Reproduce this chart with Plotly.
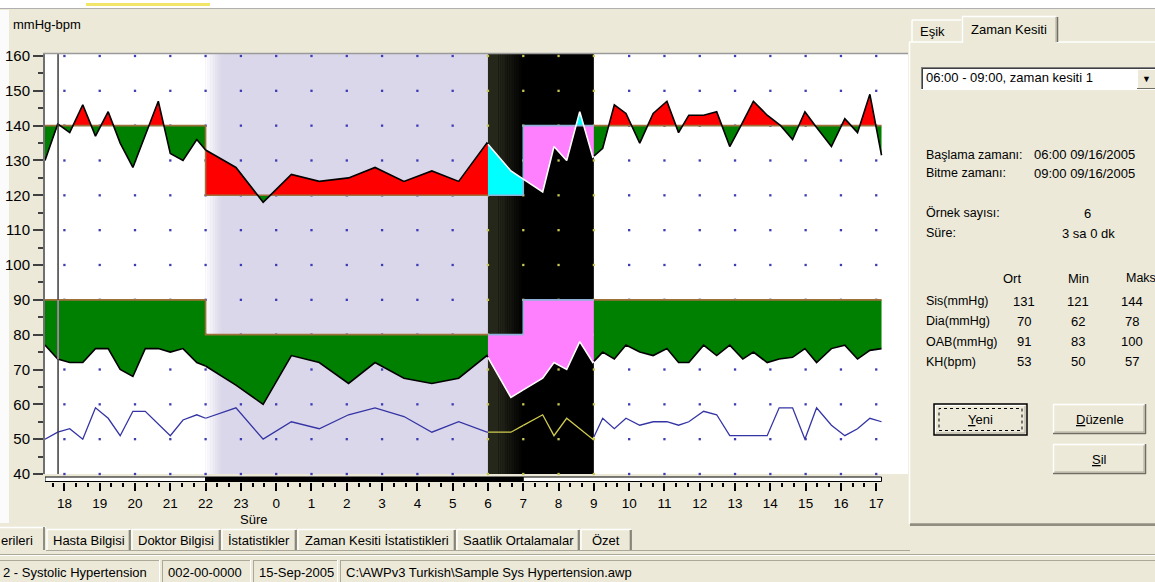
import plotly.graph_objects as go
import numpy as np

W, H = 1155, 582
FONT = "Liberation Sans, Arial, sans-serif"

# ---------------- data (hours; values above 24 belong to the next day) ----------------
times = [17.45, 17.81, 18.15, 18.52, 18.88, 19.24, 19.58, 19.94, 20.29, 20.66, 21.00, 21.36, 21.75, 22.00,
         22.86, 23.63, 24.43, 25.22, 26.05, 26.80, 27.62, 28.41, 29.17, 29.97,
         30.65, 31.55, 31.87, 32.23, 32.60, 32.97,
         33.25, 33.58, 33.91, 34.30, 34.68, 35.07, 35.40, 35.69, 36.11, 36.48, 36.85, 37.22, 37.52, 37.91,
         38.25, 38.63, 38.98, 39.31, 39.73, 40.11, 40.47, 40.82, 41.15]
sys_vals = [130, 140.5, 138, 146, 137, 144, 135, 128, 137, 147, 132, 130, 136, 133,
            128, 118, 126, 124, 125, 128, 124, 127, 124, 135,
            127, 121, 134, 130, 144, 131,
            133.5, 146, 143.5, 135, 143.5, 147, 138, 143, 143, 144, 134, 141, 147, 143,
            140.5, 136, 144, 139.5, 134, 142, 138, 149, 131.5]
dia_vals = [77, 73, 72, 72, 76, 76, 70, 68, 76, 76, 75, 76, 72, 71,
            65.5, 60, 74, 72, 66, 72, 67.5, 66, 67.5, 74,
            62, 67.5, 72, 70, 78, 72,
            75, 73, 77, 75, 74, 76, 72, 72, 77, 74, 77, 73, 75, 72,
            73, 73.5, 76, 72, 76, 77, 73, 75.5, 76]
hr_vals = [50, 52, 53, 50, 59, 56, 51, 58, 58, 54.5, 51, 55.5, 57, 56,
           59, 50, 55, 53, 57, 59, 56.5, 52, 55, 52,
           52, 57, 51, 56, 53, 50,
           56, 53, 56, 54, 55, 55, 54, 55, 58, 57, 51, 51, 51, 51,
           59, 59, 50, 59, 54, 51, 53, 56, 55]

sys_limits = (140, 120)      # day, night
dia_limits = (90, 80)
night_start, night_end = 22.0, 31.0     # 22:00 - 07:00
slice_start, slice_end = 30.0, 33.0     # 06:00 - 09:00 time slice
cursor_t = 17.82

hour_ticks = list(range(18, 42))
hour_labels = ["18", "19", "20", "21", "22", "23", "0", "1", "2", "3", "4", "5", "6", "7", "8",
               "9", "10", "11", "12", "13", "14", "15", "16", "17"]
y_ticks = list(range(40, 161, 10))

x_min, x_max = 17.45, 41.90
y_min, y_max = 40, 160.57

# ---------------- helpers ----------------
def limit_at(t, lim):
    return lim[1] if night_start <= t < night_end else lim[0]

cuts = sorted(set([times[0], times[-1], night_start, night_end, slice_start, slice_end]))
cuts = [c for c in cuts if times[0] <= c <= times[-1]]
intervals = list(zip(cuts[:-1], cuts[1:]))


def in_slice(a, b):
    m = (a + b) / 2
    return slice_start <= m < slice_end


def build(vals, lim):
    out = {"above": {False: ([], []), True: ([], [])},
           "below": {False: ([], []), True: ([], [])},
           "thr": {False: ([], []), True: ([], [])},
           "curve": {False: ([], []), True: ([], [])}}
    prev_thr = None
    for a, b in intervals:
        m = (a + b) / 2
        thr = limit_at(m, lim)
        s = in_slice(a, b)
        xs = [a] + [t for t in times if a < t < b] + [b]
        ys = list(np.interp(xs, times, vals))
        X, Y = [xs[0]], [ys[0]]
        for i in range(1, len(xs)):
            y0, y1 = ys[i - 1], ys[i]
            if (y0 - thr) * (y1 - thr) < 0:
                tc = xs[i - 1] + (thr - y0) / (y1 - y0) * (xs[i] - xs[i - 1])
                X.append(tc)
                Y.append(thr)
            X.append(xs[i])
            Y.append(ys[i])
        up = [max(y, thr) for y in Y]
        dn = [min(y, thr) for y in Y]
        bx = X[::-1]
        ax_, ay_ = out["above"][s]
        ax_ += X + bx + [None]
        ay_ += up + [thr] * len(X) + [None]
        bx_, by_ = out["below"][s]
        bx_ += X + bx + [None]
        by_ += dn + [thr] * len(X) + [None]
        tx, ty = out["thr"][s]
        if prev_thr is not None and prev_thr != thr:
            tx += [a]
            ty += [prev_thr]
        tx += [a, b, None]
        ty += [thr, thr, None]
        cx, cy = out["curve"][s]
        cx += X + [None]
        cy += Y + [None]
        prev_thr = thr
    return out


def hr_paths(vals):
    res = {False: ([], []), True: ([], [])}
    for a, b in intervals:
        s = in_slice(a, b)
        xs = [a] + [t for t in times if a < t < b] + [b]
        ys = list(np.interp(xs, times, vals))
        res[s][0].extend(xs + [None])
        res[s][1].extend(ys + [None])
    return res


def blend(c1, c2, f):
    return "rgb(%d,%d,%d)" % tuple(round(c1[i] + (c2[i] - c1[i]) * f) for i in range(3))


fig = go.Figure()

# grid dots
dot_x, dot_y, dot_c = [], [], []
for h in hour_ticks:
    for v in y_ticks:
        dot_x.append(h)
        dot_y.append(v)
        dot_c.append("#C8C850" if slice_start <= h <= slice_end else "#3C3CB4")
fig.add_trace(go.Scatter(x=dot_x, y=dot_y, mode="markers", cliponaxis=False,
                         marker=dict(symbol="square", size=2.3, color=dot_c, line=dict(width=0)),
                         hoverinfo="skip", showlegend=False))

THR_COL = {False: "#A0703A", True: "#8FB0D8"}
CURVE_COL = {False: "#000000", True: "#FFFFFF"}
ABOVE_COL = {False: "#FF0000", True: "#00FFFF"}
BELOW_COL = {False: "#008000", True: "#FF80FF"}

for vals, lim in [(sys_vals, sys_limits), (dia_vals, dia_limits)]:
    out = build(vals, lim)
    for s in (False, True):
        x, y = out["above"][s]
        fig.add_trace(go.Scatter(x=x, y=y, mode="lines", fill="toself", fillcolor=ABOVE_COL[s],
                                 line=dict(width=0), hoverinfo="skip", showlegend=False))
        x, y = out["below"][s]
        fig.add_trace(go.Scatter(x=x, y=y, mode="lines", fill="toself", fillcolor=BELOW_COL[s],
                                 line=dict(width=0), hoverinfo="skip", showlegend=False))
    for s in (False, True):
        x, y = out["thr"][s]
        fig.add_trace(go.Scatter(x=x, y=y, mode="lines", line=dict(color=THR_COL[s], width=1.6),
                                 hoverinfo="skip", showlegend=False))
    for s in (False, True):
        x, y = out["curve"][s]
        fig.add_trace(go.Scatter(x=x, y=y, mode="lines", line=dict(color=CURVE_COL[s], width=1.6),
                                 hoverinfo="skip", showlegend=False))

hp = hr_paths(hr_vals)
fig.add_trace(go.Scatter(x=hp[False][0], y=hp[False][1], mode="lines", line=dict(color="#3434A4", width=1.3),
                         hoverinfo="skip", showlegend=False))
fig.add_trace(go.Scatter(x=hp[True][0], y=hp[True][1], mode="lines", line=dict(color="#CFCB4E", width=1.3),
                         hoverinfo="skip", showlegend=False))

# dummy trace carrying the tick axis
fig.add_trace(go.Scatter(x=[times[0]], y=[None], xaxis="x2", yaxis="y", mode="markers",
                         marker=dict(opacity=0), hoverinfo="skip", showlegend=False))

shapes = []
annotations = []


def prect(x0, y0, x1, y1, fill=None, line=None, lw=1, dash=None, layer="above"):
    shapes.append(dict(type="rect", xref="paper", yref="paper", x0=x0 / W, x1=x1 / W,
                       y0=1 - y1 / H, y1=1 - y0 / H, fillcolor=fill or "rgba(0,0,0,0)",
                       line=dict(color=line or "rgba(0,0,0,0)", width=lw if line else 0, dash=dash),
                       layer=layer))


def pline(x0, y0, x1, y1, color, lw=1, layer="above", dash=None):
    shapes.append(dict(type="line", xref="paper", yref="paper", x0=x0 / W, x1=x1 / W,
                       y0=1 - y0 / H, y1=1 - y1 / H, line=dict(color=color, width=lw, dash=dash),
                       layer=layer))


def txt(s, x, y, size=13, anchor="left", color="black"):
    annotations.append(dict(text=s, x=x / W, y=1 - y / H, xref="paper", yref="paper",
                            xanchor=anchor, yanchor="middle", showarrow=False,
                            font=dict(family=FONT, size=size, color=color)))


# ---- background regions in data coordinates ----
white = (255, 255, 255)
lav = (219, 215, 234)
shapes.append(dict(type="rect", xref="x", yref="y domain", x0=night_start, x1=slice_start, y0=0, y1=1,
                   fillcolor="rgb(219,215,234)", line=dict(width=0), layer="below"))
n = 10
fw = 0.45
for i in range(n):
    shapes.append(dict(type="rect", xref="x", yref="y domain", x0=night_start + i * fw / n,
                       x1=night_start + (i + 1) * fw / n + 0.005, y0=0, y1=1,
                       fillcolor=blend(white, lav, (i + 0.5) / n), line=dict(width=0), layer="below"))
shapes.append(dict(type="rect", xref="x", yref="y domain", x0=slice_start, x1=slice_end, y0=0, y1=1,
                   fillcolor="black", line=dict(width=0), layer="below"))
olive = (38, 39, 27)
shapes.append(dict(type="rect", xref="x", yref="y domain", x0=slice_start, x1=slice_start + 0.3, y0=0, y1=1,
                   fillcolor="rgb(38,39,27)", line=dict(width=0), layer="below"))
n = 14
for i in range(n):
    a = slice_start + 0.3 + i * 0.7 / n
    shapes.append(dict(type="rect", xref="x", yref="y domain", x0=a, x1=a + 0.7 / n + 0.005, y0=0, y1=1,
                       fillcolor=blend(olive, (0, 0, 0), (i + 0.5) / n), line=dict(width=0), layer="below"))

# cursor line
shapes.append(dict(type="line", xref="x", yref="y domain", x0=cursor_t, x1=cursor_t, y0=0, y1=1,
                   line=dict(color="#3C3C3C", width=1.5), layer="above"))
cur_dia = float(np.interp(cursor_t, times, dia_vals))
shapes.append(dict(type="line", xref="x", yref="y", x0=cursor_t, x1=cursor_t, y0=cur_dia, y1=dia_limits[0],
                   line=dict(color="#C88CC8", width=1.5), layer="above"))

# day / night bar below the plot
bar_y0, bar_y1 = 1 - 481.5 / H, 1 - 477 / H
shapes.append(dict(type="rect", xref="x", yref="paper", x0=times[0], x1=night_start, y0=bar_y0, y1=bar_y1,
                   fillcolor="white", line=dict(color="black", width=1)))
shapes.append(dict(type="rect", xref="x", yref="paper", x0=night_start, x1=night_end, y0=bar_y0, y1=bar_y1,
                   fillcolor="black", line=dict(color="black", width=1)))
shapes.append(dict(type="rect", xref="x", yref="paper", x0=night_end, x1=times[-1], y0=bar_y0, y1=bar_y1,
                   fillcolor="white", line=dict(color="black", width=1)))

# ---- window chrome ----
prect(0, 0, W, 8, fill="white")
pline(0, 8.5, W, 8.5, "#B0B0B0", 1)
prect(86, 3, 210, 6, fill="#F2E66A")
prect(0, 10, 9, 523, fill="#FBFBFB", layer="below")
pline(43, 53.5, 908, 53.5, "#9A9A9A", 1.5)
txt("mmHg-bpm", 11, 25, 13)
txt("Süre", 253, 519, 13, anchor="center")

# right tab panel
HL, SH, DK = "#FFFFFF", "#ACA899", "#716F64"
pline(909.5, 42, 909.5, 524, HL, 1.5)
pline(909, 42, 962, 42, HL, 1.5)
pline(1057, 42, W, 42, HL, 1.5)
pline(910, 523.5, W, 523.5, SH, 1)
pline(910, 525, W, 525, DK, 1.5)
# tab Eşik
pline(912, 20, 912, 42, HL, 1.5)
pline(912, 20, 961, 20, HL, 1.5)
txt("Eşik", 918, 31, 13)
# tab Zaman Kesiti (selected)
prect(962, 16, 1056, 43, fill="#ECE9D8")
pline(962.5, 16, 962.5, 43, HL, 1.5)
pline(962, 16.5, 1056, 16.5, HL, 1.5)
pline(1056, 17, 1056, 42, SH, 1)
pline(1057.5, 17, 1057.5, 42, DK, 1.5)
txt("Zaman Kesiti", 969, 29, 13)
# dropdown
prect(921, 67, 1160, 90, fill="white")
pline(921, 67.5, W, 67.5, "#808080", 1)
pline(921.5, 67, 921.5, 90, "#808080", 1)
pline(922.5, 68.5, W, 68.5, "#404040", 1)
pline(922.5, 68, 922.5, 89, "#404040", 1)
pline(921, 89.5, W, 89.5, HL, 1)
prect(1137, 69, 1160, 89, fill="#ECE9D8")
pline(1137, 69.5, W, 69.5, HL, 1)
pline(1137.5, 69, 1137.5, 89, HL, 1)
pline(1137, 88.5, W, 88.5, DK, 1)
txt("▼", 1146, 79, 9, anchor="center")
txt("06:00 - 09:00, zaman kesiti 1", 924, 78, 13)

txt("Başlama zamanı:", 924, 155, 12.5)
txt("06:00 09/16/2005", 1032, 155, 13)
txt("Bitme zamanı:", 924, 173, 12.5)
txt("09:00 09/16/2005", 1032, 173, 13)
txt("Örnek sayısı:", 924, 213, 12.5)
txt("6", 1087, 213, 13, anchor="center")
txt("Süre:", 924, 233, 12.5)
txt("3 sa 0 dk", 1088, 233, 13, anchor="center")

txt("Ort", 1012, 278, 13, anchor="center")
txt("Min", 1078, 278, 13, anchor="center")
txt("Maks", 1124, 278, 12.5)
row_labels = ["Sis(mmHg)", "Dia(mmHg)", "OAB(mmHg)", "KH(bpm)"]
row_ort = ["131", "70", "91", "53"]
row_min = ["121", "62", "83", "50"]
row_max = ["144", "78", "100", "57"]
for i, (lab, o, mi, ma) in enumerate(zip(row_labels, row_ort, row_min, row_max)):
    yy = 301 + i * 20.3
    txt(lab, 924, yy, 12.5)
    txt(o, 1024, yy, 13, anchor="center")
    txt(mi, 1078, yy, 13, anchor="center")
    txt(ma, 1132, yy, 13, anchor="center")


def button(x0, y0, x1, y1, label, default=False):
    if default:
        prect(x0, y0, x1, y1, fill="#ECE9D8", line="#000000", lw=1.5)
        pline(x0 + 1.5, y0 + 1.5, x1 - 2, y0 + 1.5, HL, 1)
        pline(x0 + 1.5, y0 + 1.5, x0 + 1.5, y1 - 2, HL, 1)
        pline(x0 + 2, y1 - 2, x1 - 2, y1 - 2, SH, 1)
        pline(x1 - 2, y0 + 2, x1 - 2, y1 - 2, SH, 1)
        prect(x0 + 5, y0 + 4.5, x1 - 5, y1 - 4.5, line="#000000", lw=1, dash="dot")
    else:
        prect(x0, y0, x1, y1, fill="#ECE9D8")
        pline(x0, y0 + 0.5, x1, y0 + 0.5, HL, 1.5)
        pline(x0 + 0.5, y0, x0 + 0.5, y1, HL, 1.5)
        pline(x0, y1 - 0.5, x1, y1 - 0.5, DK, 1.5)
        pline(x1 - 0.5, y0, x1 - 0.5, y1, DK, 1.5)
        pline(x0 + 1.5, y1 - 2, x1 - 2, y1 - 2, SH, 1)
        pline(x1 - 2, y0 + 1.5, x1 - 2, y1 - 2, SH, 1)
    txt(label, (x0 + x1) / 2, (y0 + y1) / 2, 13, anchor="center")


button(934, 404, 1027, 435, "<u>Y</u>eni", default=True)
button(1053, 404, 1146, 434, "<u>D</u>üzenle")
button(1053, 444, 1146, 474, "<u>S</u>il")

# bottom tabs
pline(0, 527.5, 46, 527.5, HL, 1.5)
pline(44, 527, 44, 550, DK, 1.5)
txt("erileri", -1, 540, 13)
tabs = [("Hasta Bilgisi", 47, 130), ("Doktor Bilgisi", 132, 220), ("İstatistikler", 222, 296),
        ("Zaman Kesiti İstatistikleri", 298, 455), ("Saatlik Ortalamalar", 457, 579), ("Özet", 581, 631)]
for lab, a, b in tabs:
    pline(a, 529, a, 550, HL, 1.5)
    pline(a, 529.5, b, 529.5, HL, 1.5)
    pline(b - 1, 530, b - 1, 550, SH, 1)
    pline(b, 530, b, 550, DK, 1.5)
    txt(lab, (a + b) / 2, 540, 13, anchor="center")
pline(46, 550.5, 910, 550.5, SH, 1)

# status bar
pline(0, 554.5, W, 554.5, SH, 1)
pline(0, 555.5, W, 555.5, HL, 1)
panels = [("2 - Systolic Hypertension", -10, 160), ("002-00-0000", 162, 251), ("15-Sep-2005", 253, 338),
          ("C:\\AWPv3 Turkish\\Sample Sys Hypertension.awp", 340, 1160)]
for lab, a, b in panels:
    pline(a, 560.5, b, 560.5, SH, 1)
    pline(a + 0.5, 560, a + 0.5, 582, SH, 1)
    pline(b - 0.5, 560, b - 0.5, 582, HL, 1)
    txt(lab, a + 4 if a > 0 else 1, 572, 13)

minor_x = [h + k / 3 for h in range(17, 42) for k in (1, 2) if x_min <= h + k / 3 <= times[-1]]

fig.update_layout(
    width=W, height=H, margin=dict(l=0, r=0, t=0, b=0, pad=0, autoexpand=False), autosize=False,
    paper_bgcolor="#ECE9D8", plot_bgcolor="white", showlegend=False,
    font=dict(family=FONT, size=13, color="black"),
    xaxis=dict(domain=[45 / W, 908 / W], range=[x_min, x_max], showgrid=False, zeroline=False,
               showticklabels=False, ticks="", showline=False, fixedrange=True, automargin=False),
    xaxis2=dict(overlaying="x", anchor="free", position=1 - 481.5 / H, range=[x_min, x_max],
                tickmode="array", tickvals=hour_ticks, ticktext=hour_labels, ticks="outside",
                ticklen=8, tickwidth=1.5, tickcolor="black", automargin=False,
                minor=dict(tickmode="array", tickvals=minor_x, ticks="outside", ticklen=4,
                           tickwidth=1.5, tickcolor="black"),
                showgrid=False, zeroline=False, showline=False,
                tickfont=dict(family=FONT, size=13.5, color="black"), ticklabelstandoff=1),
    yaxis=dict(domain=[1 - 474 / H, 1 - 54 / H], range=[y_min, y_max], tickmode="array",
               tickvals=y_ticks, ticks="outside", ticklen=10, tickwidth=1.5, tickcolor="#404040",
               minor=dict(tickmode="array", tickvals=[v + 5 for v in y_ticks[:-1]], ticks="outside",
                          ticklen=5, tickwidth=1.5, tickcolor="#404040"),
               showline=True, linecolor="#707070", linewidth=2, showgrid=False, zeroline=False,
               automargin=False,
               tickfont=dict(family=FONT, size=15, color="black"), ticklabelstandoff=0),
    shapes=shapes, annotations=annotations,
)

pin_js = ("document.documentElement.style.margin='0';document.body.style.margin='0';"
          "document.body.style.padding='0';document.body.style.overflow='hidden';"
          "var d=document.getElementById('{plot_id}');d.style.position='fixed';"
          "d.style.left='0px';d.style.top='0px';")
fig.write_html("out.html", post_script=pin_js, config={"responsive": False, "displayModeBar": False})
